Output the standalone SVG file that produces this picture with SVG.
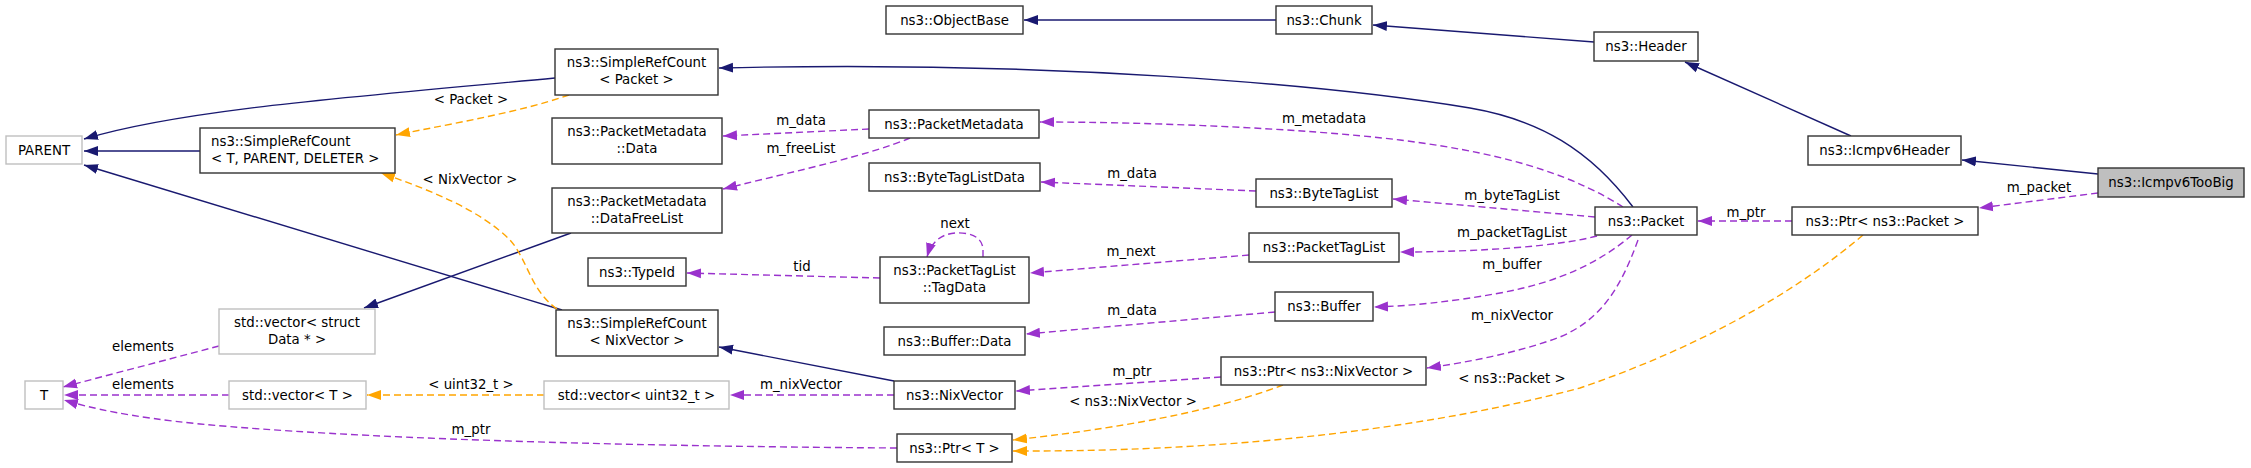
<svg xmlns="http://www.w3.org/2000/svg" width="2251" height="468" viewBox="0 0 2251 468">
<style>
text{font-family:"DejaVu Sans","Liberation Sans",sans-serif;font-size:13.33px;fill:#000}
.n rect{fill:#fff;stroke:#333;stroke-width:1.4}
.g rect{fill:#fff;stroke:#bfbfbf;stroke-width:1.4}
.n text,.g text{text-anchor:middle}
.lbl{text-anchor:middle}
.inh{fill:none;stroke:#191970;stroke-width:1.4;marker-end:url(#ab)}
.col{fill:none;stroke:#9a32cd;stroke-width:1.4;stroke-dasharray:7,4;marker-end:url(#ap)}
.tpl{fill:none;stroke:#ffa500;stroke-width:1.4;stroke-dasharray:7,4;marker-end:url(#ao)}
</style>
<defs>
<marker id="ab" markerUnits="userSpaceOnUse" markerWidth="15" markerHeight="11" refX="14" refY="5.5" orient="auto"><path d="M0,0.5 L14,5.5 L0,10.5 z" fill="#191970"/></marker>
<marker id="ap" markerUnits="userSpaceOnUse" markerWidth="15" markerHeight="11" refX="14" refY="5.5" orient="auto"><path d="M0,0.5 L14,5.5 L0,10.5 z" fill="#9a32cd"/></marker>
<marker id="ao" markerUnits="userSpaceOnUse" markerWidth="15" markerHeight="11" refX="14" refY="5.5" orient="auto"><path d="M0,0.5 L14,5.5 L0,10.5 z" fill="#ffa500"/></marker>
</defs>
<rect width="2251" height="468" fill="#fff"/>
<g id="edges">
<path class="inh" d="M555,78 C340,98 180,110 84,139"/>
<path class="inh" d="M200,151 L84,151"/>
<path class="inh" d="M562,310 L84,165"/>
<path class="inh" d="M571,233 L364,308"/>
<path class="inh" d="M894,381 L719,347"/>
<path class="inh" d="M1633,207 C1590,150 1540,120 1470,108 C1330,85 1050,60 719,68"/>
<path class="inh" d="M1276,20 L1024,20"/>
<path class="inh" d="M1594,42 L1373,25"/>
<path class="inh" d="M1851,136 L1685,62"/>
<path class="inh" d="M2098,174 L1962,160"/>
<path class="col" d="M2098,193 L1979,208"/>
<path class="col" d="M1792,221 L1698,221"/>
<path class="col" d="M1623,207 C1580,180 1520,155 1400,140 C1300,128 1150,122 1040,122"/>
<path class="col" d="M1595,217 L1393,199"/>
<path class="col" d="M1597,236 C1560,246 1480,252 1400,252"/>
<path class="col" d="M1632,235 C1600,262 1560,282 1500,293 C1450,302 1410,306 1374,307"/>
<path class="col" d="M1638,240 C1620,290 1600,320 1560,337 C1520,352 1470,362 1427,368"/>
<path class="col" d="M869,129 L723,136"/>
<path class="col" d="M910,138 C870,155 800,170 723,189"/>
<path class="col" d="M1256,191 L1041,182"/>
<path class="col" d="M983,257 L983,250 C983,236 968,232 955,233 C943,234 932,240 927,257"/>
<path class="col" d="M1249,255 L1030,273"/>
<path class="col" d="M880,278 L687,273"/>
<path class="col" d="M1275,312 L1026,334"/>
<path class="col" d="M1221,377 L1016,391"/>
<path class="col" d="M894,395 L730,395"/>
<path class="col" d="M219,346 L63,387"/>
<path class="col" d="M229,395 L64,395"/>
<path class="col" d="M897,448 C600,446 350,438 200,424 C130,417 90,408 64,400"/>
<path class="tpl" d="M569,95 C520,112 460,122 396,135"/>
<path class="tpl" d="M557,309 C530,290 528,260 510,240 C480,210 430,190 381,173"/>
<path class="tpl" d="M544,395 L367,395"/>
<path class="tpl" d="M1283,385 C1230,405 1150,425 1013,440"/>
<path class="tpl" d="M1863,235 C1810,280 1720,340 1580,388 C1440,425 1250,452 1013,451"/>
<text class="lbl" x="471" y="104">&lt; Packet &gt;</text>
<text class="lbl" x="470" y="184">&lt; NixVector &gt;</text>
<text class="lbl" x="143" y="351">elements</text>
<text class="lbl" x="143" y="389">elements</text>
<text class="lbl" x="471" y="389">&lt; uint32_t &gt;</text>
<text class="lbl" x="471" y="434">m_ptr</text>
<text class="lbl" x="801" y="125">m_data</text>
<text class="lbl" x="801" y="153">m_freeList</text>
<text class="lbl" x="1324" y="123">m_metadata</text>
<text class="lbl" x="1132" y="178">m_data</text>
<text class="lbl" x="955" y="228">next</text>
<text class="lbl" x="802" y="271">tid</text>
<text class="lbl" x="1131" y="256">m_next</text>
<text class="lbl" x="1132" y="315">m_data</text>
<text class="lbl" x="1132" y="376">m_ptr</text>
<text class="lbl" x="801" y="389">m_nixVector</text>
<text class="lbl" x="1133" y="406">&lt; ns3::NixVector &gt;</text>
<text class="lbl" x="2039" y="192">m_packet</text>
<text class="lbl" x="1746" y="217">m_ptr</text>
<text class="lbl" x="1512" y="200">m_byteTagList</text>
<text class="lbl" x="1512" y="237">m_packetTagList</text>
<text class="lbl" x="1512" y="269">m_buffer</text>
<text class="lbl" x="1512" y="320">m_nixVector</text>
<text class="lbl" x="1512" y="383">&lt; ns3::Packet &gt;</text>
</g>
<g id="PARENT" class="g"><rect x="6" y="136" width="76" height="28"/><text x="44" y="155">PARENT</text></g>
<g id="SimpleRefCount_T" class="n"><rect x="200" y="128" width="195" height="45"/><text x="211" y="146" style="text-anchor:start">ns3::SimpleRefCount</text><text x="211" y="163" style="text-anchor:start">&lt; T, PARENT, DELETER &gt;</text></g>
<g id="SimpleRefCount_Packet" class="n"><rect x="555" y="49" width="163" height="46"/><text x="636.5" y="67">ns3::SimpleRefCount</text><text x="636.5" y="84">&lt; Packet &gt;</text></g>
<g id="PacketMetadata_Data" class="n"><rect x="552" y="118" width="170" height="46"/><text x="637" y="136">ns3::PacketMetadata</text><text x="637" y="153">::Data</text></g>
<g id="PacketMetadata_DataFreeList" class="n"><rect x="552" y="188" width="170" height="45"/><text x="637" y="206">ns3::PacketMetadata</text><text x="637" y="223">::DataFreeList</text></g>
<g id="ObjectBase" class="n"><rect x="886" y="6" width="137" height="28"/><text x="954.5" y="25">ns3::ObjectBase</text></g>
<g id="Chunk" class="n"><rect x="1276" y="6" width="96" height="28"/><text x="1324" y="25">ns3::Chunk</text></g>
<g id="Header" class="n"><rect x="1594" y="32" width="104" height="29"/><text x="1646" y="51">ns3::Header</text></g>
<g id="Icmpv6Header" class="n"><rect x="1808" y="136" width="153" height="29"/><text x="1884.5" y="155">ns3::Icmpv6Header</text></g>
<g id="Icmpv6TooBig" class="n"><rect x="2098" y="168" width="146" height="29" style="fill:#bfbfbf"/><text x="2171" y="187">ns3::Icmpv6TooBig</text></g>
<g id="PacketMetadata" class="n"><rect x="869" y="110" width="170" height="28"/><text x="954" y="129">ns3::PacketMetadata</text></g>
<g id="ByteTagListData" class="n"><rect x="869" y="163" width="171" height="28"/><text x="954.5" y="182">ns3::ByteTagListData</text></g>
<g id="ByteTagList" class="n"><rect x="1256" y="179" width="136" height="28"/><text x="1324" y="198">ns3::ByteTagList</text></g>
<g id="Packet" class="n"><rect x="1595" y="207" width="102" height="28"/><text x="1646" y="226">ns3::Packet</text></g>
<g id="Ptr_Packet" class="n"><rect x="1792" y="207" width="186" height="28"/><text x="1885" y="226">ns3::Ptr&lt; ns3::Packet &gt;</text></g>
<g id="TypeId" class="n"><rect x="588" y="258" width="98" height="28"/><text x="637" y="277">ns3::TypeId</text></g>
<g id="PacketTagList_TagData" class="n"><rect x="880" y="257" width="149" height="46"/><text x="954.5" y="275">ns3::PacketTagList</text><text x="954.5" y="292">::TagData</text></g>
<g id="PacketTagList" class="n"><rect x="1249" y="233" width="150" height="29"/><text x="1324" y="252">ns3::PacketTagList</text></g>
<g id="Buffer" class="n"><rect x="1275" y="292" width="98" height="29"/><text x="1324" y="311">ns3::Buffer</text></g>
<g id="Buffer_Data" class="n"><rect x="884" y="327" width="141" height="28"/><text x="954.5" y="346">ns3::Buffer::Data</text></g>
<g id="SimpleRefCount_NixVector" class="n"><rect x="556" y="310" width="162" height="46"/><text x="637" y="328">ns3::SimpleRefCount</text><text x="637" y="345">&lt; NixVector &gt;</text></g>
<g id="vector_struct_Data" class="g"><rect x="219" y="309" width="156" height="45"/><text x="297" y="327">std::vector&lt; struct</text><text x="297" y="344">Data * &gt;</text></g>
<g id="T" class="g"><rect x="25" y="381" width="38" height="28"/><text x="44" y="400">T</text></g>
<g id="vector_T" class="g"><rect x="229" y="381" width="137" height="28"/><text x="297.5" y="400">std::vector&lt; T &gt;</text></g>
<g id="vector_uint32_t" class="g"><rect x="544" y="381" width="185" height="28"/><text x="636.5" y="400">std::vector&lt; uint32_t &gt;</text></g>
<g id="NixVector" class="n"><rect x="894" y="381" width="121" height="28"/><text x="954.5" y="400">ns3::NixVector</text></g>
<g id="Ptr_NixVector" class="n"><rect x="1221" y="357" width="205" height="28"/><text x="1323.5" y="376">ns3::Ptr&lt; ns3::NixVector &gt;</text></g>
<g id="Ptr_T" class="n"><rect x="897" y="434" width="115" height="28"/><text x="954.5" y="453">ns3::Ptr&lt; T &gt;</text></g>
</svg>
